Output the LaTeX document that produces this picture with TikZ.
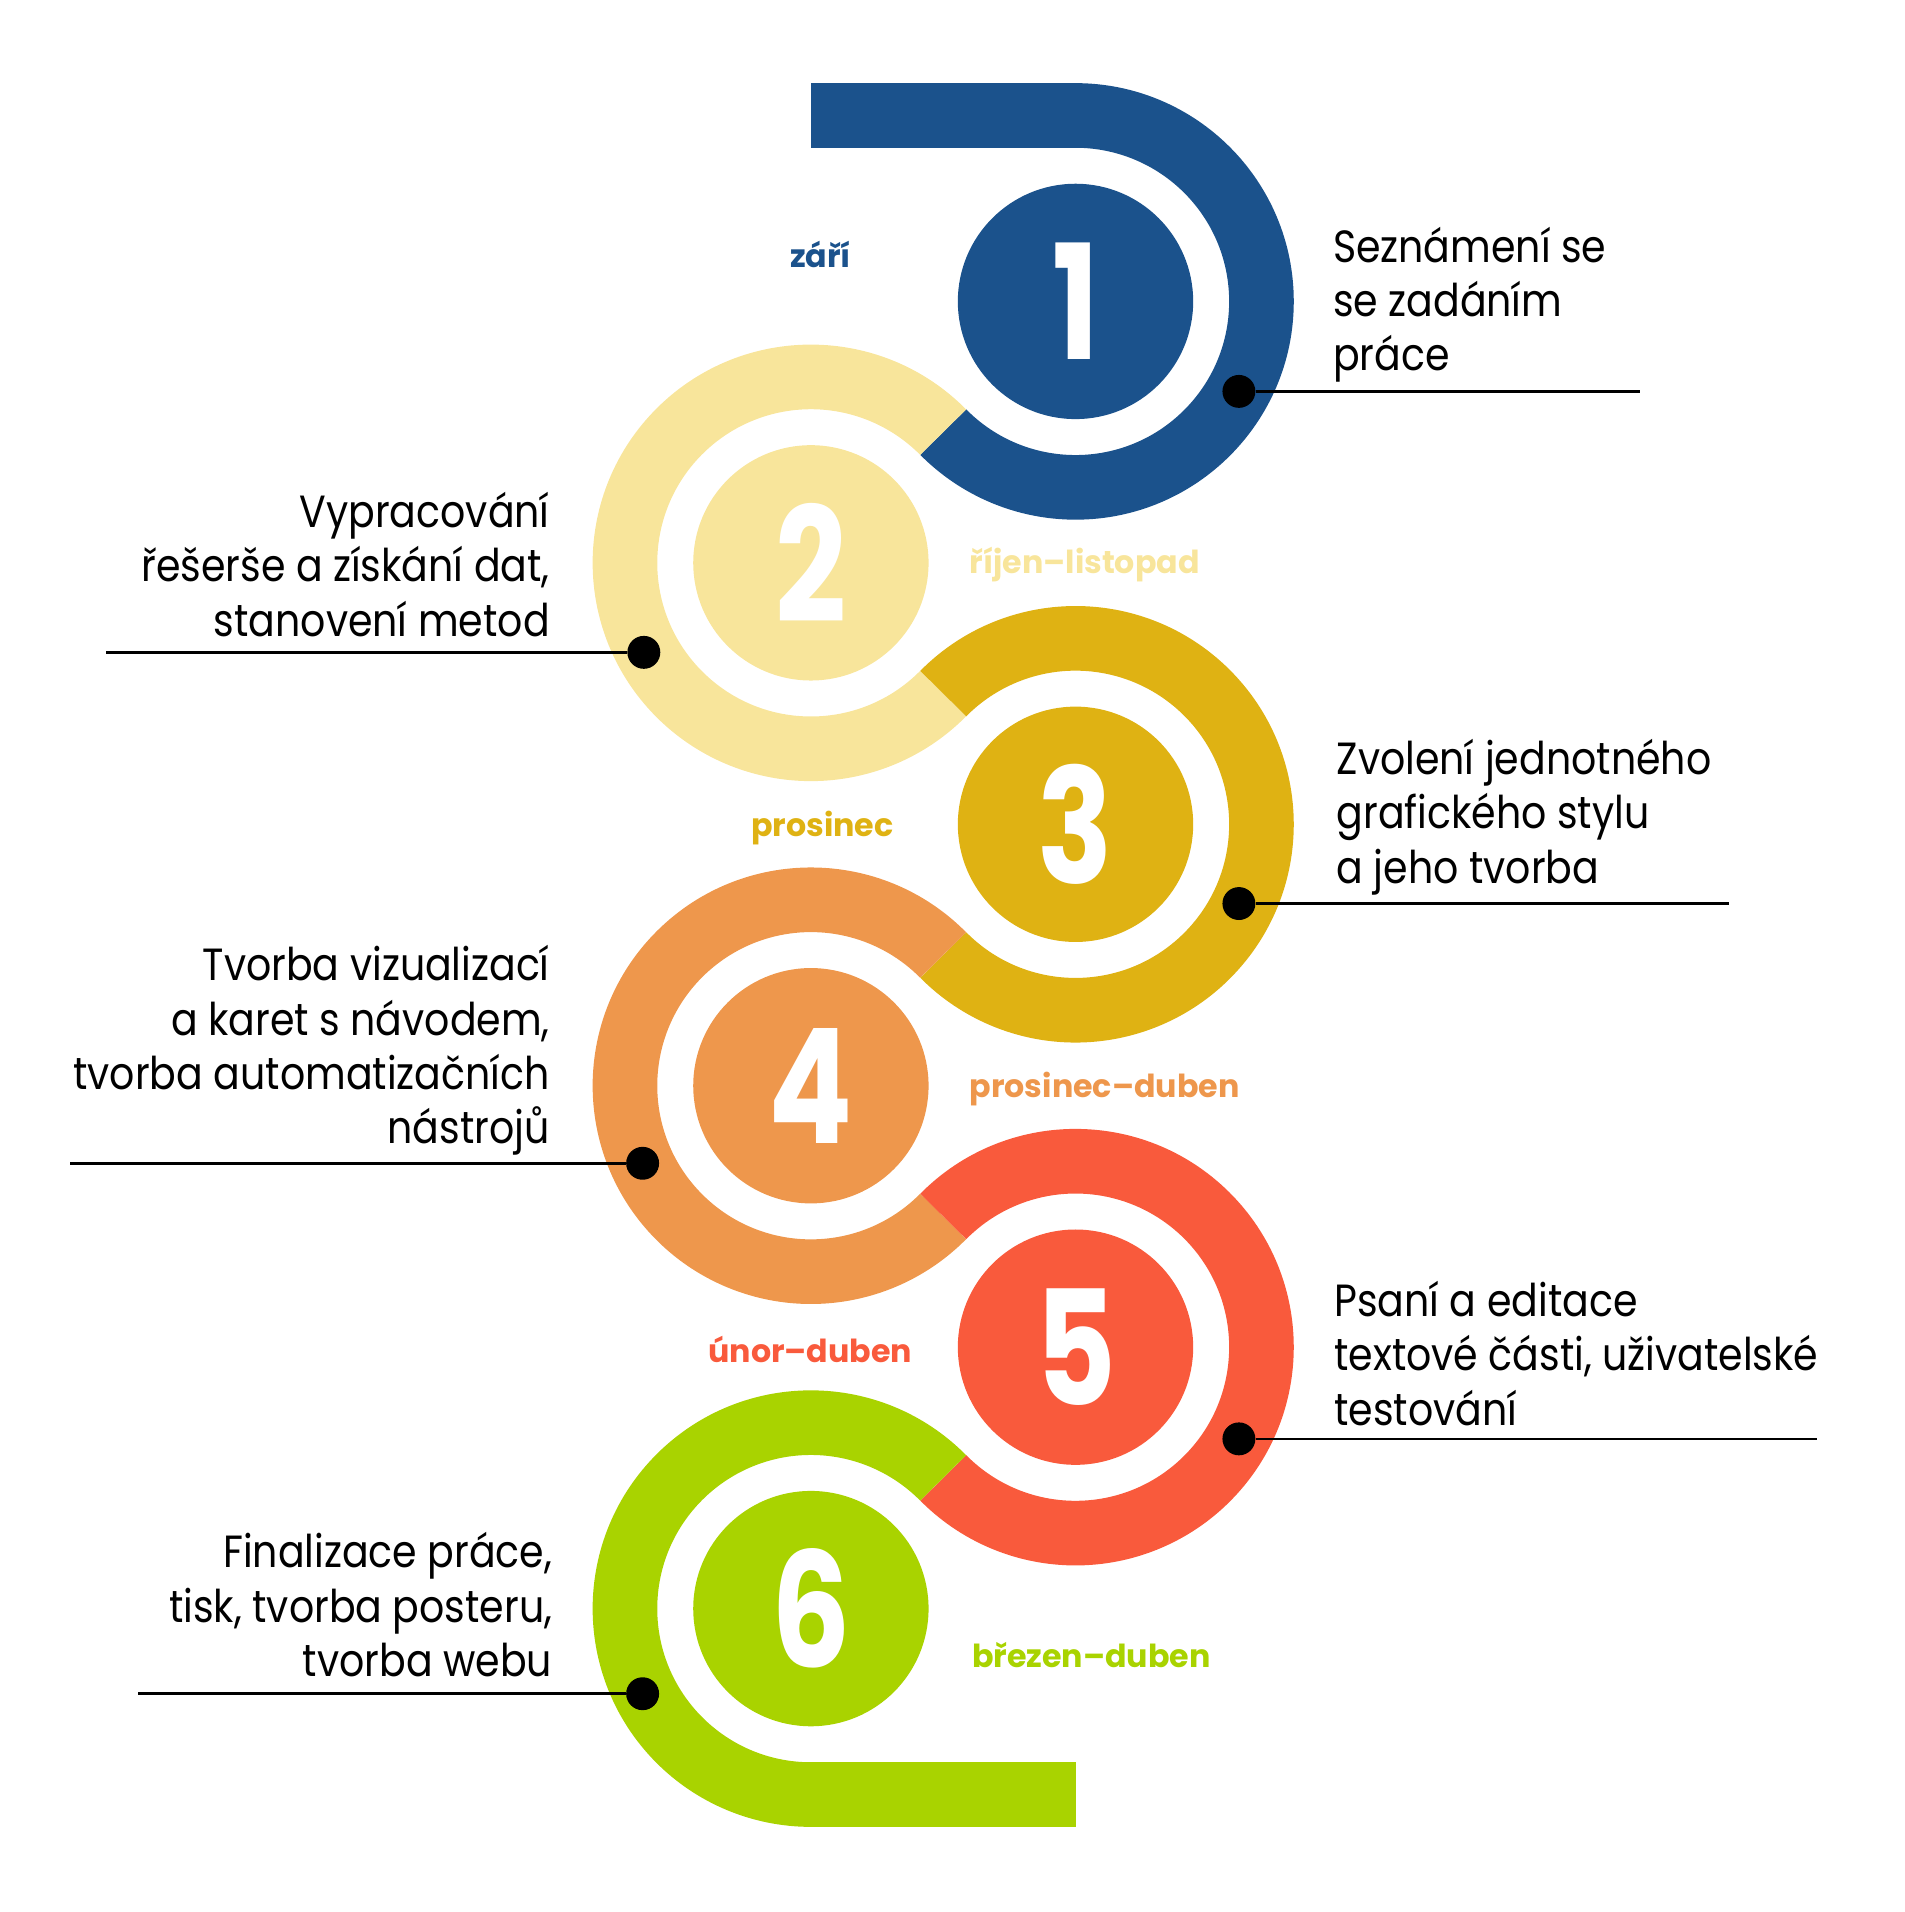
\documentclass[tikz,border=0pt]{standalone}
\usepackage{fontspec}
\setmainfont{Poppins}[FakeStretch=0.875]
\newfontfamily\numfamily{Poppins}[FakeStretch=0.78]
\newfontfamily\monthfamily{Poppins}
\usepackage{xcolor}
\definecolor{StepBlue}{HTML}{1B528C}
\definecolor{StepSand}{HTML}{F8E59B}
\definecolor{StepMustard}{HTML}{DFB213}
\definecolor{StepOrange}{HTML}{EE974C}
\definecolor{StepRed}{HTML}{F95A3C}
\definecolor{StepLime}{HTML}{A9D300}
\newcommand{\numberfont}{\fontsize{131}{131}\selectfont\numfamily\bfseries}
\newcommand{\monthfont}{\fontsize{26}{30}\selectfont\monthfamily\bfseries}
\newcommand{\taskfont}{\fontsize{37}{44.5}\selectfont}
\tikzset{
  disc/.style={circle, fill=#1, minimum size=193pt, inner sep=0pt, text=white, font=\numberfont},
  pin/.style={circle, fill=black, minimum size=27pt, inner sep=0pt},
  leader/.style={line width=2.2pt},
  month/.style={font=\monthfont, text=#1, inner sep=0pt},
  task/.style={font=\taskfont, inner sep=0pt},
}

\begin{document}
\begin{tikzpicture}[x=1pt,y=1pt]
  \useasboundingbox (0,0) rectangle (1562,1568);
  % rings
  \foreach \cx/\cy/\sa/\ea/\col in {
    882/1320.8/90/-135.34/StepBlue,
    665/1106.4/44.66/315.34/StepSand,
    882/892.0/135.34/-135.34/StepMustard,
    665/677.6/44.66/315.34/StepOrange,
    882/463.2/135.34/-135.34/StepRed,
    665/248.8/44.66/270/StepLime}{
    \fill[\col, shift={(\cx,\cy)}] (\sa:179) arc[start angle=\sa, end angle=\ea, radius=179]
      -- (\ea:126) arc[start angle=\ea, end angle=\sa, radius=126] -- cycle;
  }
  \fill[StepBlue] (665,1446.8) rectangle (883,1499.8); % horni pruh
  \fill[StepLime] (664,69.8) rectangle (882,122.8); % dolni pruh
  % numbered discs
  \foreach \n/\cx/\cy/\col in {
    1/882/1320.8/StepBlue, 2/665/1106.4/StepSand, 3/882/892.0/StepMustard,
    4/665/677.6/StepOrange, 5/882/463.2/StepRed, 6/665/248.8/StepLime}{
    \node[disc=\col] (disc\n) at (\cx,\cy) {\n};
  }
  % pins and leaders
  \foreach \n/\px/\py/\ex in {
    1/1016/1247/1345, 2/528/1033/87, 3/1016/827/1418,
    4/527/614/57, 5/1016/388/1490, 6/527/179/113}{
    \node[pin] (pin\n) at (\px,\py) {};
    \coordinate (end\n) at (\ex,\py);
    \draw[leader] (pin\n) -- (end\n);
  }
  % months
  \node[month=StepBlue, anchor=mid] (month1) at (673,1351) {září};
  \node[month=StepSand, anchor=mid west] (month2) at (795,1100) {říjen–listopad};
  \node[month=StepMustard, anchor=mid] (month3) at (674.5,885) {prosinec};
  \node[month=StepOrange, anchor=mid west] (month4) at (795,671) {prosinec–duben};
  \node[month=StepRed, anchor=mid] (month5) at (664.5,453) {únor–duben};
  \node[month=StepLime, anchor=mid west] (month6) at (797,203) {březen–duben};
  % tasks
  \node[task, anchor=west, align=left] (task1) at (1093,1318) {Seznámení se\\se zadáním\\práce};
  \node[task, anchor=east, align=right] (task2) at (451,1105) {Vypracování\\řešerše a získání dat,\\stanovení metod};
  \node[task, anchor=west, align=left] (task3) at (1096,898) {Zvolení jednotného\\grafického stylu\\a jeho tvorba};
  \node[task, anchor=east, align=right] (task4) at (451,706.5) {Tvorba vizualizací\\a karet s návodem,\\tvorba automatizačních\\nástrojů};
  \node[task, anchor=west, align=left] (task5) at (1094,458) {Psaní a editace\\textové části, uživatelské\\testování};
  \node[task, anchor=east, align=right] (task6) at (453,252) {Finalizace práce,\\tisk, tvorba posteru,\\tvorba webu};
\end{tikzpicture}
\end{document}
